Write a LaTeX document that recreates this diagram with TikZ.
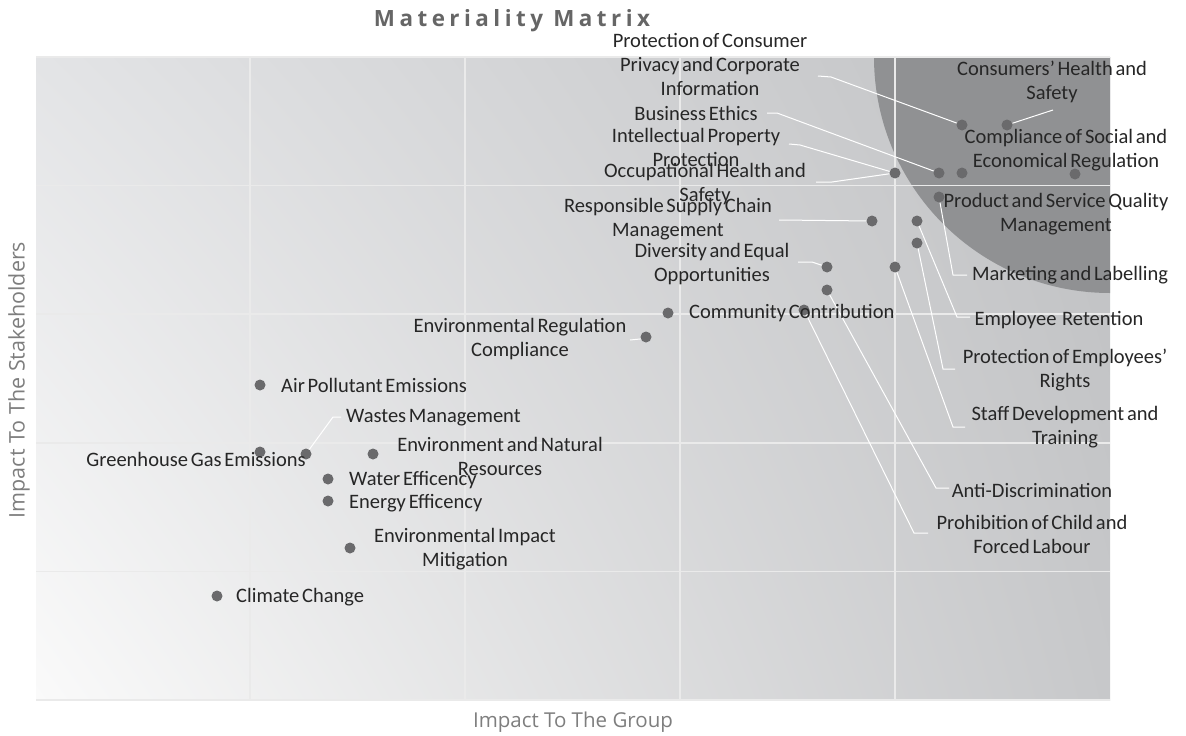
\documentclass[tikz,border=0pt]{standalone}
\usepackage{fontspec}
\usetikzlibrary{shadings}
\setmainfont{Carlito}[WordSpace=0.6]
\newfontfamily\titlefont{Open Sans}[LetterSpace=20]
\newfontfamily\axisfont{Open Sans}
\definecolor{lbltxt}{HTML}{262626}
\definecolor{dotgray}{HTML}{6A6A6C}
\definecolor{darkzone}{HTML}{909193}
\definecolor{gridc}{HTML}{EAEAEA}
\definecolor{axisgray}{HTML}{7E7E7E}
\definecolor{titlegray}{HTML}{666666}
\definecolor{bgUL}{HTML}{E3E4E6}
\definecolor{bgUR}{HTML}{C0C1C3}
\definecolor{bgLL}{HTML}{FAFAFA}
\definecolor{bgLR}{HTML}{C7C8CA}
\tikzset{
  dot/.style={circle, fill=dotgray, minimum size=11pt, inner sep=0pt, draw=none},
  leader/.style={draw=white, line width=1pt},
  gridline/.style={draw=gridc, line width=1.5pt},
  lbl/.style={font=\fontsize{20.5}{24}\selectfont, text=lbltxt, inner sep=0pt, align=center},
  lblw/.style={lbl, anchor=west},
  lble/.style={lbl, anchor=east},
}
\begin{document}
\begin{tikzpicture}[x=1pt, y=-1pt]
\useasboundingbox (0,0) rectangle (1186,736);
% background of plot
\shade[upper left=bgUL, upper right=bgUR, lower left=bgLL, lower right=bgLR] (36,57) rectangle (1110,700);
% high-materiality zone
\fill[darkzone] (1110,57) -- (874,57) arc[start angle=180, end angle=90, radius=236] -- cycle;
% grid
\foreach \gx in {250,465,680,895} \draw[gridline] (\gx,57) -- (\gx,700);
\foreach \gy in {185.6,314.2,442.8,571.4} \draw[gridline] (36,\gy) -- (1110,\gy);
\draw[gridline] (36,57) -- (1110,57);
\draw[gridline] (36,700) -- (1110,700);
% title and axes
\node[font=\titlefont\bfseries\fontsize{22.4}{26}\selectfont, text=titlegray, inner sep=0pt] (title) at (512,21) {Materiality Matrix};
\node[font=\axisfont\fontsize{20.5}{24}\selectfont, text=axisgray, inner sep=0pt] (xaxis) at (573,722) {Impact To The Group};
\node[font=\axisfont\fontsize{21.5}{24}\selectfont, text=axisgray, inner sep=0pt, rotate=90] (yaxis) at (19,380) {Impact To The Stakeholders};
% dots
\node[dot] (d1) at (962,125) {};
\node[dot] (d2) at (1007,125) {};
\node[dot] (d3) at (939,173) {};
\node[dot] (d4) at (962,173) {};
\node[dot] (d5) at (895,173) {};
\node[dot] (d6) at (1075,174) {};
\node[dot] (d7) at (939,197) {};
\node[dot] (d8) at (872,221) {};
\node[dot] (d9) at (917,221) {};
\node[dot] (d10) at (917,243) {};
\node[dot] (d11) at (827,267) {};
\node[dot] (d12) at (895,267) {};
\node[dot] (d13) at (827,290) {};
\node[dot] (d14) at (668,313) {};
\node[dot] (d15) at (804,310) {};
\node[dot] (d16) at (646,337) {};
\node[dot] (d17) at (260,385) {};
\node[dot] (d18) at (260,452) {};
\node[dot] (d19) at (306,454) {};
\node[dot] (d20) at (373,454) {};
\node[dot] (d21) at (328,479) {};
\node[dot] (d22) at (328,501) {};
\node[dot] (d23) at (350,548) {};
\node[dot] (d24) at (217,596) {};
% leader line coordinates
\coordinate (p1a) at (818,76);  \coordinate (p1b) at (831,77);
\coordinate (p2a) at (1053,110);
\coordinate (p3a) at (767,113); \coordinate (p3b) at (777,113);
\coordinate (p5a) at (789,144); \coordinate (p5b) at (800,145);
\coordinate (p5c) at (816,182); \coordinate (p5d) at (832,182);
\coordinate (p7a) at (953,275); \coordinate (p7b) at (967,275);
\coordinate (p8a) at (779,220);
\coordinate (p9a) at (957,317); \coordinate (p9b) at (970,317);
\coordinate (p10a) at (943,369); \coordinate (p10b) at (955,369);
\coordinate (p11a) at (798,262); \coordinate (p11b) at (812,262);
\coordinate (p12a) at (953,427); \coordinate (p12b) at (965,427);
\coordinate (p13a) at (936,488); \coordinate (p13b) at (949,488);
\coordinate (p15a) at (914,533); \coordinate (p15b) at (928,533);
\coordinate (p16a) at (630,340); \coordinate (p16b) at (640,339);
\coordinate (p19a) at (333,417); \coordinate (p19b) at (341,417);
% leader lines
\draw[leader] (p1a) -- (p1b) -- (d1);
\draw[leader] (d2) -- (p2a);
\draw[leader] (p3a) -- (p3b) -- (d3);
\draw[leader] (p5a) -- (p5b) -- (d5);
\draw[leader] (p5c) -- (p5d) -- (d5);
\draw[leader] (d7) -- (p7a) -- (p7b);
\draw[leader] (p8a) -- (d8);
\draw[leader] (d9) -- (p9a) -- (p9b);
\draw[leader] (d10) -- (p10a) -- (p10b);
\draw[leader] (p11a) -- (p11b) -- (d11);
\draw[leader] (d12) -- (p12a) -- (p12b);
\draw[leader] (d13) -- (p13a) -- (p13b);
\draw[leader] (d15) -- (p15a) -- (p15b);
\draw[leader] (p16a) -- (p16b) -- (d16);
\draw[leader] (d19) -- (p19a) -- (p19b);
% labels
\node[lbl] (l1) at (710,64) {Protection of Consumer\\Privacy and Corporate\\Information};
\node[lbl] (l2) at (696,113) {Business Ethics};
\node[lbl] (l3) at (696,147) {Intellectual Property\\Protection};
\node[lbl] (l4) at (705,184) {Occupational Health and\\Safety};
\node[lbl] (l5) at (668,219) {Responsible Supply Chain\\Management};
\node[lbl] (l6) at (712,264) {Diversity and Equal\\Opportunities};
\node[lblw] (l7) at (689,313) {Community Contribution};
\node[lbl] (l8) at (520,339) {Environmental Regulation\\Compliance};
\node[lbl] (l9) at (1052,82) {Consumers' Health and\\Safety};
\node[lbl] (l10) at (1066,150) {Compliance of Social and\\Economical Regulation};
\node[lbl] (l11) at (1056,214) {Product and Service Quality\\Management};
\node[lbl] (l12) at (1070,275) {Marketing and Labelling};
\node[lbl] (l13) at (1059,320) {Employee\ \ Retention};
\node[lbl] (l14) at (1065,370) {Protection of Employees'\\Rights};
\node[lbl] (l15) at (1065,427) {Staff Development and\\Training};
\node[lbl] (l16) at (1032,490) {Anti-Discrimination};
\node[lbl] (l17) at (1032,534) {Prohibition of Child and\\Forced Labour};
\node[lblw] (l18) at (281,385) {Air Pollutant Emissions};
\node[lblw] (l19) at (346,418) {Wastes Management};
\node[lble] (l20) at (306,459) {Greenhouse Gas Emissions};
\node[lbl] (l21) at (500,456) {Environment and Natural\\Resources};
\node[lblw] (l22) at (349,480) {Water Efficency};
\node[lblw] (l23) at (349,503) {Energy Efficency};
\node[lbl] (l24) at (465,549) {Environmental Impact\\Mitigation};
\node[lblw] (l25) at (236,597) {Climate Change};
\end{tikzpicture}
\end{document}
